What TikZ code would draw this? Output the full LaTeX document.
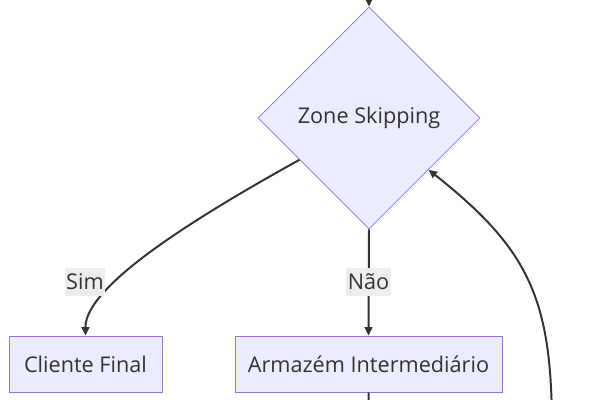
\documentclass[tikz,border=0pt]{standalone}
\usepackage{fontspec}
\setmainfont{Open Sans}
\usetikzlibrary{arrows.meta, positioning, shapes.geometric}

\definecolor{nodefill}{HTML}{ECECFF}
\definecolor{nodeline}{HTML}{9370DB}
\definecolor{ink}{HTML}{333333}
\definecolor{labelbg}{HTML}{EDEDED}

\begin{document}
\begin{tikzpicture}[
        x=0.025cm, y=-0.025cm,
        every node/.style={font=\fontsize{15.4}{18}\selectfont, text=ink},
        decision/.style={diamond, draw=nodeline, fill=nodefill, line width=0.6pt, aspect=1, inner sep=0pt, minimum width=5.55cm, minimum height=5.55cm},
        box/.style={draw=nodeline, fill=nodefill, line width=0.6pt, minimum height=1.4cm, inner sep=0pt},
        elabel/.style={fill=labelbg, inner xsep=1pt, minimum height=0.7cm},
        arrow/.style={-{Triangle[length=6pt, width=5.5pt]}, draw=ink, line width=1.4pt}
    ]
        \useasboundingbox (0,0) rectangle (600,400);

        % --- Nodes ---
        \node[decision] (zone) at (369,118) {Zone Skipping};
        \node[box, minimum width=3.825cm] (cliente) at (85.5,364) {Cliente Final};
        \node[box, minimum width=6.675cm] (armazem) at (368.5,364) {Armazém Intermediário};

        % Free ends outside the visible part
        \coordinate (above) at (369,-30);
        \coordinate (below) at (369,430);
        \coordinate (back) at (552,430);

        % --- Connectors ---
        \draw[arrow] (above) -- (zone.north);
        \draw[arrow] (zone.211) .. controls (200,215) and (85,285) .. (cliente.north);
        \draw[arrow] (zone.south) -- (armazem.north);
        \draw[draw=ink, line width=1.4pt] (armazem.south) -- (below);
        \draw[arrow] (back) .. controls (552,300) and (530,250) .. (zone.319);

        % --- Edge labels ---
        \node[elabel] (sim) at (85,282) {Sim};
        \node[elabel] (nao) at (368.5,282) {Não};

    \end{tikzpicture}
\end{document}
